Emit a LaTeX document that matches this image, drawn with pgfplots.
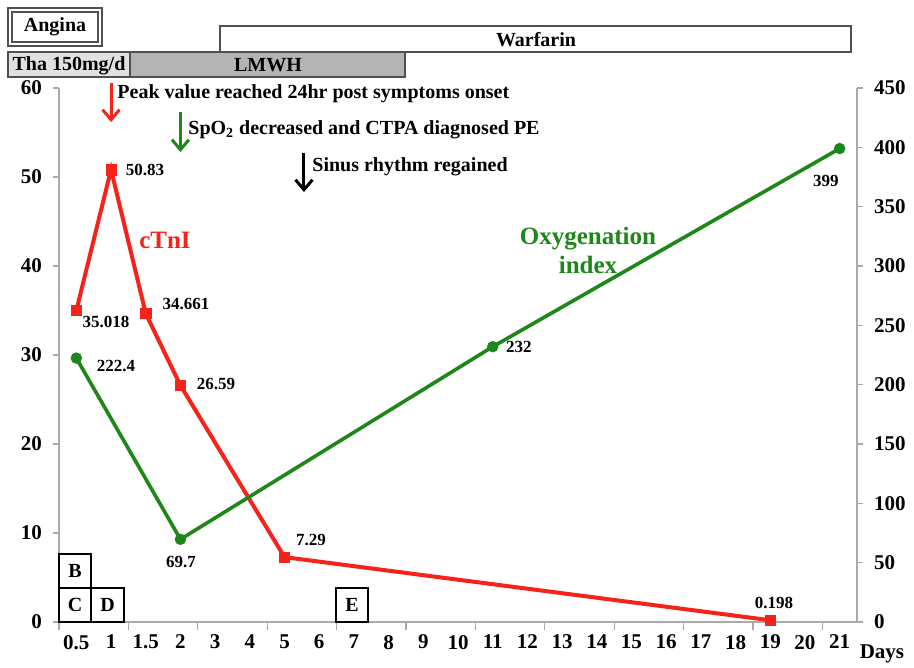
\documentclass[border=0pt]{standalone}
\usepackage{pgfplots}
\pgfplotsset{compat=1.18}
\usepackage{fontspec}
\setmainfont{Liberation Serif}
\usetikzlibrary{arrows.meta}

\definecolor{cred}{RGB}{245,35,25}
\definecolor{cgreen}{RGB}{30,135,25}
\definecolor{axgray}{RGB}{170,170,170}
\definecolor{boxgray}{RGB}{80,80,80}
\definecolor{lightfill}{RGB}{225,225,225}
\definecolor{midfill}{RGB}{180,180,180}

\tikzset{
  lbl/.style={font=\bfseries\fontsize{8.5}{10}\selectfont, inner sep=0pt},
  ann/.style={font=\bfseries\fontsize{10}{12}\selectfont, inner sep=0pt, anchor=west},
  bx/.style={draw=boxgray, line width=0.7pt},
  bxt/.style={font=\bfseries\fontsize{10}{12}\selectfont, inner sep=0pt},
  arr/.style={line width=1.5pt, -{Straight Barb[length=5pt,width=8.5pt]}},
}

\begin{document}
\begin{tikzpicture}
\pgfplotsset{
  base/.style={
    scale only axis, width=399pt, height=267pt,
    xmin=-0.5, xmax=22.5,
    clip=false,
    axis line style={axgray, line width=0.6pt},
    tick style={axgray, line width=0.6pt},
    tick align=outside,
    major tick length=3pt,
    /pgf/number format/assume math mode=true,
    ticklabel style={font=\bfseries\fontsize{10.5}{12}\selectfont, text=black},
  },
}
\begin{axis}[base,
  axis x line*=bottom, axis y line*=left,
  ymin=0, ymax=60, ytick={0,10,...,60},
  yticklabel style={xshift=-2pt},
  xtick={0,...,22},
  xticklabels={0.5,1,1.5,2,3,4,5,6,7,8,9,10,11,12,13,14,15,16,17,18,19,20,21},
  major x tick style={draw=none},
  minor xtick={-0.5,1.5,...,21.5},
  minor tick length=4pt,
  minor x tick style={axgray, line width=0.6pt},
]
% cTnI
\addplot[cred, line width=2pt, mark=square*, mark size=2.6pt, mark options={solid, line width=0.3pt}]
  coordinates {(0,35.018) (1,50.83) (2,34.661) (3,26.59) (6,7.29) (20,0.198)};

% invisible frame for page size
\path (axis cs:-2.2005,-5.056) rectangle (axis cs:24.143,69.89);

% top boxes
\draw[bx] (axis cs:-1.970,68.99) rectangle (axis cs:0.739,64.72);
\draw[bx] (axis cs:-1.855,68.54) rectangle (axis cs:0.624,65.17);
\node[bxt] at (axis cs:-0.615,66.85) {Angina};
\draw[bx, fill=white] (axis cs:4.140,66.97) rectangle (axis cs:22.327,64.04);
\node[bxt] at (axis cs:13.248,65.39) {Warfarin};
\draw[bx, fill=lightfill] (axis cs:-1.970,64.04) rectangle (axis cs:1.546,61.24);
\node[bxt] at (axis cs:-0.212,62.55) {Tha 150mg/d};
\draw[bx, fill=midfill] (axis cs:1.546,64.04) rectangle (axis cs:9.472,61.24);
\node[bxt] at (axis cs:5.524,62.55) {LMWH};

% event boxes
\draw[black, line width=0.6pt] (axis cs:-0.5,3.82) rectangle (axis cs:0.422,7.64);
\draw[black, line width=0.6pt] (axis cs:-0.5,0) rectangle (axis cs:0.422,3.82);
\draw[black, line width=0.6pt] (axis cs:0.422,0) rectangle (axis cs:1.373,3.82);
\draw[black, line width=0.6pt] (axis cs:7.484,0) rectangle (axis cs:8.406,3.82);
\node[bxt] at (axis cs:-0.039,5.73) {B};
\node[bxt] at (axis cs:-0.039,1.91) {C};
\node[bxt] at (axis cs:0.898,1.91) {D};
\node[bxt] at (axis cs:7.945,1.91) {E};

% arrows and notes
\draw[cred, arr] (axis cs:1,60.56) -- (axis cs:1,56.18);
\node[ann] at (axis cs:1.172,59.33) {Peak value reached 24hr post symptoms onset};
\draw[cgreen, arr] (axis cs:3,57.30) -- (axis cs:3,52.81);
\node[ann] at (axis cs:3.218,55.28) {SpO\textsubscript{2} decreased and CTPA diagnosed PE};
\draw[black, arr] (axis cs:6.561,52.70) -- (axis cs:6.561,48.31);
\node[ann] at (axis cs:6.792,51.12) {Sinus rhythm regained};

% series names
\node[font=\bfseries\fontsize{12.5}{14}\selectfont, text=cred] at (axis cs:2.555,42.92) {cTnI};
\node[font=\bfseries\fontsize{12.5}{14.5}\selectfont, text=cgreen, align=center] at (axis cs:14.747,41.80) {Oxygenation\\index};

% value labels
\node[lbl] at (axis cs:0.855,33.71) {35.018};
\node[lbl] at (axis cs:1.979,50.79) {50.83};
\node[lbl] at (axis cs:3.160,35.73) {34.661};
\node[lbl] at (axis cs:4.025,26.74) {26.59};
\node[lbl] at (axis cs:6.763,9.21) {7.29};
\node[lbl] at (axis cs:20.108,2.13) {0.198};
\node[lbl] at (axis cs:1.143,28.76) {222.4};
\node[lbl] at (axis cs:3.016,6.74) {69.7};
\node[lbl] at (axis cs:12.758,30.90) {232};
\node[lbl] at (axis cs:21.606,49.55) {399};

\node[font=\bfseries\fontsize{10.5}{12}\selectfont, inner sep=0pt] at (axis cs:23.22,-3.55) {Days};
\end{axis}

\begin{axis}[base,
  axis x line=none, axis y line*=right,
  ymin=0, ymax=450, ytick={0,50,...,450},
  yticklabel style={xshift=2pt},
]
% Oxygenation index
\addplot[cgreen, line width=1.8pt, mark=*, mark size=2.7pt, mark options={solid, line width=0.3pt}]
  coordinates {(0,222.4) (3,69.7) (12,232) (22,399)};
\end{axis}
\end{tikzpicture}
\end{document}
